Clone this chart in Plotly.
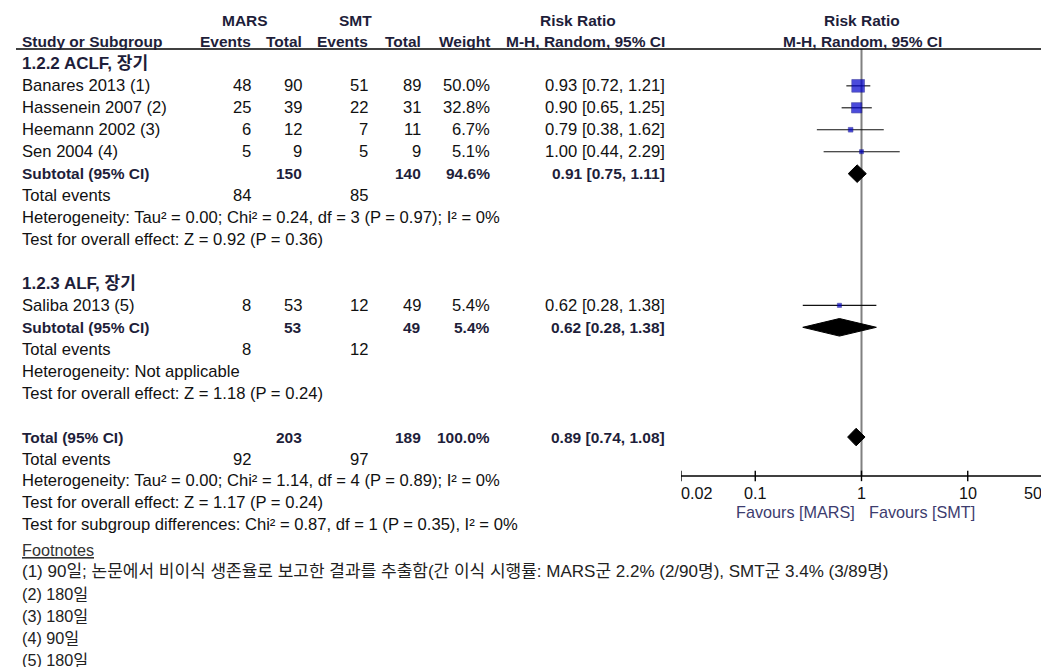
import math
import plotly.graph_objects as go

# ---------------- data ----------------
studies = ["Banares 2013 (1)", "Hassenein 2007 (2)", "Heemann 2002 (3)", "Sen 2004 (4)", "Saliba 2013 (5)"]
study_rows = [3, 4, 5, 6, 13]
mars_events = [48, 25, 6, 5, 8]
mars_total = [90, 39, 12, 9, 53]
smt_events = [51, 22, 7, 5, 12]
smt_total = [89, 31, 11, 9, 49]
weights = [50.0, 32.8, 6.7, 5.1, 5.4]
rr = [0.93, 0.90, 0.79, 1.00, 0.62]
rr_lo = [0.72, 0.65, 0.38, 0.44, 0.28]
rr_hi = [1.21, 1.25, 1.62, 2.29, 1.38]

pooled_labels = ["Subtotal (95% CI)", "Subtotal (95% CI)", "Total (95% CI)"]
pooled_rows = [7, 14, 19]
pooled_mars_total = [150, 53, 203]
pooled_smt_total = [140, 49, 189]
pooled_weights = [94.6, 5.4, 100.0]
pooled_rr = [0.91, 0.62, 0.89]
pooled_lo = [0.75, 0.28, 0.74]
pooled_hi = [1.11, 1.38, 1.08]

events_rows = [8, 15, 20]
events_mars = [84, 8, 92]
events_smt = [85, 12, 97]

group_titles = ["1.2.2 ACLF, 장기", "1.2.3 ALF, 장기"]
group_rows = [2, 12]

stat_lines = [
    "Heterogeneity: Tau² = 0.00; Chi² = 0.24, df = 3 (P = 0.97); I² = 0%",
    "Test for overall effect: Z = 0.92 (P = 0.36)",
    "Heterogeneity: Not applicable",
    "Test for overall effect: Z = 1.18 (P = 0.24)",
    "Heterogeneity: Tau² = 0.00; Chi² = 1.14, df = 4 (P = 0.89); I² = 0%",
    "Test for overall effect: Z = 1.17 (P = 0.24)",
    "Test for subgroup differences: Chi² = 0.87, df = 1 (P = 0.35), I² = 0%",
]
stat_rows = [9, 10, 16, 17, 21, 22, 23]

footnotes = [
    "(1) 90일; 논문에서 비이식 생존율로 보고한 결과를 추출함(간 이식 시행률: MARS군 2.2% (2/90명), SMT군 3.4% (3/89명)",
    "(2) 180일",
    "(3) 180일",
    "(4) 90일",
    "(5) 180일",
]
footnote_rows = [25, 26, 27, 28, 29]
footnote_title_row = 24

tick_vals = [0.02, 0.1, 1, 10, 50]
tick_text = ["0.02", "0.1", "1", "10", "50"]
x_range = [0.02, 50]

# ---------------- layout constants ----------------
PAGE_OFF = 8                 # browser body margin
FW, FH = 1049 - PAGE_OFF, 667 - PAGE_OFF
ROW_PX = 21.95
ROW0_PX = 20.0 - PAGE_OFF
FONT = "Liberation Sans, Arial, Noto Sans CJK KR, sans-serif"
FS = 16.6
FSB = 15.5
FS_GROUP = 17.0
FS_FOOT1 = 17.0
BOLD_COLOR = "#1e1e3a"
TXT = "#111111"
FAV_COLOR = "#3c3c6e"


def px(x):
    return (x - PAGE_OFF) / FW


fig = go.Figure()

# column anchors (reference pixel x)
C_NAME = 22
C_ME, C_MT, C_SE, C_ST, C_W, C_CI = 251, 302, 368, 421, 490, 665
C_PLOT = 862

ann = []


def add(text, x, row, anchor="left", bold=False, color=None, xref="paper", size=None):
    if size is None:
        size = FSB if bold else FS
    if bold:
        text = "<b>" + text + "</b>"
    ann.append(dict(text=text, x=(px(x) if xref == "paper" else x), y=row, xref=xref, yref="y",
                    xanchor=anchor, yanchor="middle", showarrow=False, borderpad=0, borderwidth=0,
                    font=dict(family=FONT, size=size, color=color or (BOLD_COLOR if bold else TXT))))


# headers
add("MARS", 245, 0, "center", True)
add("SMT", 355, 0, "center", True)
add("Risk Ratio", 578, 0, "center", True)
add("Risk Ratio", C_PLOT, 0, "center", True)
add("Study or Subgroup", C_NAME, 1, "left", True)
add("Events", C_ME, 1, "right", True)
add("Total", C_MT, 1, "right", True)
add("Events", C_SE, 1, "right", True)
add("Total", C_ST, 1, "right", True)
add("Weight", C_W, 1, "right", True)
add("M-H, Random, 95% CI", C_CI, 1, "right", True)
add("M-H, Random, 95% CI", C_PLOT, 1, "center", True)

for t, r in zip(group_titles, group_rows):
    add(t, C_NAME, r, "left", True, size=FS_GROUP)

for i, s in enumerate(studies):
    r = study_rows[i]
    add(s, C_NAME, r)
    add(str(mars_events[i]), C_ME, r, "right")
    add(str(mars_total[i]), C_MT, r, "right")
    add(str(smt_events[i]), C_SE, r, "right")
    add(str(smt_total[i]), C_ST, r, "right")
    add(f"{weights[i]:.1f}%", C_W, r, "right")
    add(f"{rr[i]:.2f} [{rr_lo[i]:.2f}, {rr_hi[i]:.2f}]", C_CI, r, "right")

for i, lab in enumerate(pooled_labels):
    r = pooled_rows[i]
    add(lab, C_NAME, r, "left", True)
    add(str(pooled_mars_total[i]), C_MT, r, "right", True)
    add(str(pooled_smt_total[i]), C_ST, r, "right", True)
    add(f"{pooled_weights[i]:.1f}%", C_W, r, "right", True)
    add(f"{pooled_rr[i]:.2f} [{pooled_lo[i]:.2f}, {pooled_hi[i]:.2f}]", C_CI, r, "right", True)

for i, r in enumerate(events_rows):
    add("Total events", C_NAME, r)
    add(str(events_mars[i]), C_ME, r, "right")
    add(str(events_smt[i]), C_SE, r, "right")

for t, r in zip(stat_lines, stat_rows):
    add(t, C_NAME, r)

FOOT_SHIFT = 0.14
add('<span style="text-decoration:underline">Footnotes</span>', C_NAME,
    footnote_title_row + FOOT_SHIFT, "left", color="#333333", size=16.2)
for i, (t, r) in enumerate(zip(footnotes, footnote_rows)):
    add(t, C_NAME, r + FOOT_SHIFT, "left", color="#222222", size=(FS_FOOT1 if i == 0 else 16.2))

# axis geometry (rows)
HEADER_RULE_ROW = 1.32
AXIS_ROW = 20.77
TICK_HALF = 0.24
TICKLABEL_ROW = 21.55
FAVOURS_ROW = 22.41

# tick labels (placed on the log axis scale)
for i, (v, t) in enumerate(zip(tick_vals, tick_text)):
    anchor = "left" if i == 0 else ("right" if i == len(tick_vals) - 1 else "center")
    add(t, math.log10(v), TICKLABEL_ROW, anchor, xref="x", size=16.2)

add("Favours [MARS]", 855, FAVOURS_ROW, "right", color=FAV_COLOR, size=16.2)
add("Favours [SMT]", 869, FAVOURS_ROW, "left", color=FAV_COLOR, size=16.2)

# ---------------- forest plot marks ----------------
# line of no effect
fig.add_trace(go.Scatter(x=[1, 1], y=[HEADER_RULE_ROW, AXIS_ROW], mode="lines",
                         line=dict(color="#808080", width=2), hoverinfo="skip"))

# x axis line and tick marks (crossing both sides)
fig.add_trace(go.Scatter(x=x_range, y=[AXIS_ROW, AXIS_ROW], mode="lines",
                         line=dict(color="#000000", width=1.5), hoverinfo="skip"))
tx, ty = [], []
for v in tick_vals:
    tx += [v, v, None]
    ty += [AXIS_ROW - TICK_HALF, AXIS_ROW + TICK_HALF, None]
fig.add_trace(go.Scatter(x=tx, y=ty, mode="lines", line=dict(color="#000000", width=1.4),
                         hoverinfo="skip"))

# confidence interval lines
xs, ys = [], []
for i in range(len(studies)):
    xs += [rr_lo[i], rr_hi[i], None]
    ys += [study_rows[i], study_rows[i], None]
fig.add_trace(go.Scatter(x=xs, y=ys, mode="lines", line=dict(color="#111111", width=1.1),
                         hoverinfo="skip"))

# study squares (area proportional to weight)
fig.add_trace(go.Scatter(x=rr, y=study_rows, mode="markers",
                         marker=dict(symbol="square", color="#0000cc",
                                     size=[1.8 * math.sqrt(w) for w in weights],
                                     line=dict(width=0.6, color="#000080")), hoverinfo="skip"))

# pooled diamonds
DH = 0.40
for i in range(len(pooled_rows)):
    r = pooled_rows[i]
    fig.add_trace(go.Scatter(
        x=[pooled_lo[i], pooled_rr[i], pooled_hi[i], pooled_rr[i], pooled_lo[i]],
        y=[r, r - DH, r, r + DH, r], mode="lines", fill="toself",
        fillcolor="#000000", line=dict(color="#000000", width=1), hoverinfo="skip"))

# header rule
fig.add_shape(type="line", xref="paper", yref="y", x0=px(16), x1=1, y0=HEADER_RULE_ROW,
              y1=HEADER_RULE_ROW, line=dict(color="#000000", width=1.5))

y_top = -ROW0_PX / ROW_PX
y_bot = (FH - ROW0_PX) / ROW_PX

fig.update_layout(
    width=FW, height=FH, margin=dict(l=0, r=0, t=0, b=0, pad=0, autoexpand=False),
    paper_bgcolor="white", plot_bgcolor="rgba(0,0,0,0)",
    showlegend=False, annotations=ann,
    xaxis=dict(type="log", range=[math.log10(x_range[0]), math.log10(x_range[1])],
               domain=[px(681), px(1042)], showgrid=False, zeroline=False, showline=False,
               ticks="", showticklabels=False, automargin=False),
    yaxis=dict(range=[y_bot, y_top], domain=[0, 1], visible=False, showgrid=False,
               zeroline=False, automargin=False),
)

fig.write_html("out.html")
